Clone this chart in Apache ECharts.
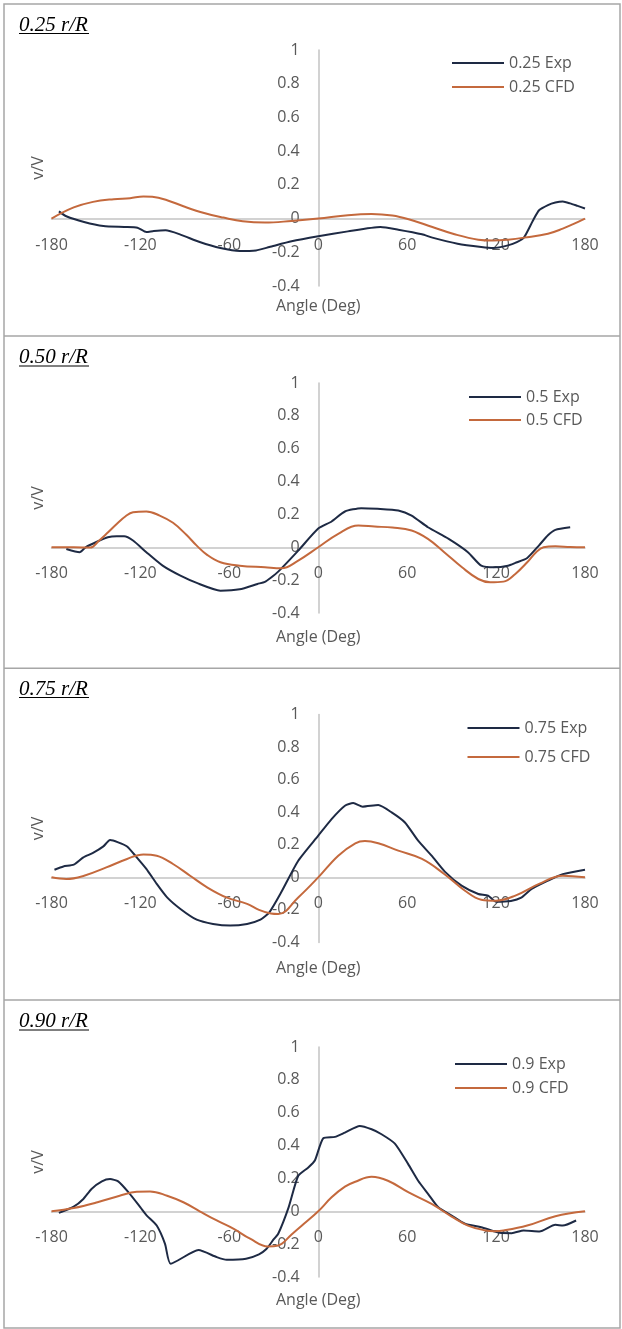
<!DOCTYPE html>
<html>
<head>
<meta charset="utf-8">
<script src="https://cdn.jsdelivr.net/npm/echarts@6/dist/echarts.min.js"></script>
<style>
  html, body { margin: 0; padding: 0; background: #fff; }
  #chart { width: 622px; height: 1329px; }
</style>
</head>
<body>
<div id="chart"></div>
<script>
// axis ticks
const X_MIN = -180, X_MAX = 180, X_STEP = 60;
const Y_MIN = -0.4, Y_MAX = 1, Y_STEP = 0.2;

const PANEL_TITLES = ['0.25 r/R', '0.50 r/R', '0.75 r/R', '0.90 r/R'];
const LEGEND_KEYS = ['0.25', '0.5', '0.75', '0.9'];

// 0.25 r/R
const EXP25_ANG = [-175, -170, -158, -145, -131, -122, -116, -111, -103, -93, -80, -66, -53, -42, -33, -18, 0, 20, 42, 54, 70, 77, 94, 110, 118, 128, 134, 139, 145, 149, 155, 160, 165, 170, 175, 180];
const EXP25_V = [0.043, 0.014, -0.02, -0.044, -0.05, -0.054, -0.08, -0.074, -0.07, -0.095, -0.139, -0.175, -0.193, -0.189, -0.169, -0.135, -0.105, -0.076, -0.05, -0.066, -0.093, -0.113, -0.149, -0.169, -0.175, -0.159, -0.14, -0.11, -0.01, 0.049, 0.08, 0.095, 0.101, 0.09, 0.075, 0.06];
const CFD25_ANG = [-180, -165, -152, -138, -127, -118, -112, -102, -91, -77, -64, -51, -36, -18, 0, 20, 36, 50, 61, 77, 92, 108, 118, 128, 139, 155, 165, 172, 180];
const CFD25_V = [0, 0.066, 0.099, 0.115, 0.121, 0.131, 0.129, 0.109, 0.073, 0.033, 0.006, -0.016, -0.024, -0.014, 0, 0.02, 0.027, 0.018, -0.004, -0.05, -0.093, -0.125, -0.13, -0.125, -0.113, -0.09, -0.06, -0.033, 0];

// 0.50 r/R
const EXP50_ANG = [-170, -161, -157, -149, -142, -136, -131, -125, -116, -105, -93, -82, -66, -53, -41, -36, -32, -27, -13.5, 0, 9, 18, 29, 40, 54, 63, 74, 88, 101, 110, 119, 128, 133, 141, 149, 155, 160, 170];
const EXP50_V = [-0.01, -0.03, 0, 0.035, 0.061, 0.067, 0.067, 0.041, -0.03, -0.112, -0.173, -0.217, -0.264, -0.256, -0.223, -0.21, -0.185, -0.148, -0.02, 0.114, 0.157, 0.218, 0.238, 0.234, 0.224, 0.193, 0.122, 0.051, -0.03, -0.112, -0.122, -0.112, -0.095, -0.065, 0.012, 0.073, 0.106, 0.122];
const CFD50_ANG = [-180, -165, -154, -148, -142, -136, -130, -125, -116, -107, -98, -89, -82, -75, -66, -53, -36, -25, -13.5, 0, 13.5, 27, 38, 50, 63, 74, 85, 97, 108, 116, 125, 133, 141, 147, 152, 160, 170, 180];
const CFD50_V = [0, 0, -0.002, 0.04, 0.09, 0.142, 0.189, 0.213, 0.218, 0.193, 0.149, 0.076, 0.01, -0.046, -0.091, -0.112, -0.122, -0.128, -0.081, 0, 0.082, 0.132, 0.126, 0.12, 0.102, 0.051, -0.03, -0.122, -0.193, -0.213, -0.209, -0.162, -0.091, -0.03, 0, 0.006, 0.002, 0];

// 0.75 r/R
const EXP75_ANG = [-178, -172, -165, -158.5, -152, -145, -140.5, -135, -129, -122.5, -116, -109, -102, -93, -82, -71, -59.5, -48, -39, -33, -25, -13.5, 0, 9, 18, 23.6, 30, 40.5, 49.5, 58.5, 67.4, 76.5, 85.4, 96.7, 108, 114.6, 120, 130, 137, 144, 155, 165, 180];
const EXP75_V = [0.047, 0.067, 0.078, 0.123, 0.15, 0.19, 0.229, 0.215, 0.19, 0.123, 0.052, -0.04, -0.123, -0.194, -0.26, -0.286, -0.296, -0.286, -0.26, -0.215, -0.092, 0.102, 0.256, 0.358, 0.44, 0.456, 0.434, 0.444, 0.399, 0.337, 0.225, 0.133, 0.035, -0.051, -0.102, -0.112, -0.15, -0.145, -0.125, -0.071, -0.02, 0.02, 0.047];
const CFD75_ANG = [-180, -170, -158, -143, -129, -118, -109, -98, -86.5, -75, -62, -48, -40, -32, -27, -13.5, 0, 13.5, 25, 31.5, 40.5, 54, 70, 85, 99, 110, 120, 133, 149, 165, 180];
const CFD75_V = [0, -0.01, 0.01, 0.061, 0.113, 0.141, 0.133, 0.082, 0.01, -0.061, -0.123, -0.163, -0.2, -0.222, -0.225, -0.123, 0, 0.133, 0.209, 0.223, 0.209, 0.164, 0.113, 0.021, -0.082, -0.137, -0.143, -0.112, -0.04, 0.01, 0];

// 0.90 r/R
const EXP90_ANG = [-175, -165, -158.5, -153, -146, -140.5, -135, -128, -120, -115.7, -109, -103.4, -99.6, -80.8, -68.5, -61.8, -48.7, -40, -35, -30, -27, -20, -13.5, -6.7, -2.2, 3.4, 11.3, 18, 28, 36, 42.7, 51.7, 60.7, 67.4, 74.2, 81, 90, 99, 110, 122.5, 130.6, 138.6, 149.3, 160, 165, 174];
const EXP90_V = [-0.01, 0.028, 0.075, 0.136, 0.182, 0.196, 0.182, 0.115, 0.024, -0.026, -0.087, -0.198, -0.319, -0.236, -0.279, -0.295, -0.289, -0.262, -0.23, -0.17, -0.137, 0.024, 0.216, 0.267, 0.311, 0.445, 0.453, 0.479, 0.519, 0.499, 0.469, 0.412, 0.287, 0.186, 0.105, 0.024, -0.026, -0.076, -0.097, -0.131, -0.133, -0.117, -0.123, -0.082, -0.087, -0.056];
const CFD90_ANG = [-180, -165, -149, -134, -122.5, -113.5, -102, -91, -80, -68.5, -57, -46, -34, -27, -18, -11, 0, 9, 18, 25, 36, 47, 61, 76.5, 90, 101, 112, 119, 125, 141, 160, 180];
const CFD90_V = [0, 0.02, 0.055, 0.095, 0.119, 0.121, 0.095, 0.055, 0, -0.056, -0.107, -0.167, -0.214, -0.208, -0.141, -0.087, 0, 0.085, 0.15, 0.18, 0.21, 0.186, 0.115, 0.045, -0.032, -0.087, -0.115, -0.121, -0.117, -0.087, -0.03, 0];

const EXP_ANG = [EXP25_ANG, EXP50_ANG, EXP75_ANG, EXP90_ANG];
const EXP_V = [EXP25_V, EXP50_V, EXP75_V, EXP90_V];
const CFD_ANG = [CFD25_ANG, CFD50_ANG, CFD75_ANG, CFD90_ANG];
const CFD_V = [CFD25_V, CFD50_V, CFD75_V, CFD90_V];

const EXP_COLOR = '#1e2a44';
const CFD_COLOR = '#c4693d';
const AXIS_GRAY = '#c3c3c3';
const TEXT_GRAY = '#595959';
const BORDER_GRAY = '#a6a6a6';
const FONT = '"Open Sans", sans-serif';

// layout of the four cells (px)
const GRID_LEFT = 51.5, GRID_RIGHT = 37, CHART_W = 622;
const PANELS = [
  { gridTop: 50, gridHeight: 236, nameGap: 79, titleY: 25, legendLeft: 452, legendTop: 55, legendGap: 8 },
  { gridTop: 383, gridHeight: 230, nameGap: 82, titleY: 357.5, legendLeft: 469, legendTop: 389, legendGap: 7 },
  { gridTop: 714.5, gridHeight: 228, nameGap: 83, titleY: 689, legendLeft: 467.5, legendTop: 720, legendGap: 13 },
  { gridTop: 1047, gridHeight: 230, nameGap: 81, titleY: 1021.5, legendLeft: 455, legendTop: 1056, legendGap: 8 },
];
const SEPARATORS = [336, 668.3, 1000];

const zip = (a, b) => a.map((x, k) => [x, b[k]]);

const chart = echarts.init(document.getElementById('chart'));

const grids = [], xAxes = [], yAxes = [], series = [], legends = [], titles = [];
const graphics = [
  { type: 'rect', shape: { x: 4, y: 4, width: 616, height: 1324 }, style: { fill: 'none', stroke: BORDER_GRAY, lineWidth: 1.5 } },
];
SEPARATORS.forEach(y => graphics.push({
  type: 'line', shape: { x1: 4, y1: y, x2: 620, y2: y }, style: { stroke: BORDER_GRAY, lineWidth: 1.5 },
}));

const labelStyle = { fontFamily: FONT, fontSize: 16, color: TEXT_GRAY };
const hidden = { show: false };
const gridBase = { outerBoundsMode: 'none', containLabel: false };

// pixel position of the zero lines, where Excel hangs the tick labels
const plotW = CHART_W - GRID_LEFT - GRID_RIGHT;
const x0 = GRID_LEFT + plotW * (0 - X_MIN) / (X_MAX - X_MIN);

PANELS.forEach((p, i) => {
  const y0 = p.gridTop + p.gridHeight * Y_MAX / (Y_MAX - Y_MIN);
  const g = grids.length;

  // main plot: axis lines cross at zero
  grids.push({ ...gridBase, left: GRID_LEFT, right: GRID_RIGHT, top: p.gridTop, height: p.gridHeight });
  xAxes.push({
    gridIndex: g, type: 'value', min: X_MIN, max: X_MAX, interval: X_STEP,
    axisLine: { onZero: true, lineStyle: { color: AXIS_GRAY, width: 1.5 } },
    axisTick: hidden, splitLine: hidden, axisLabel: hidden,
  });
  yAxes.push({
    gridIndex: g, type: 'value', min: Y_MIN, max: Y_MAX, interval: Y_STEP,
    axisLine: { show: true, onZero: true, lineStyle: { color: AXIS_GRAY, width: 1.5 } },
    axisTick: hidden, splitLine: hidden, axisLabel: hidden,
  });

  // x tick labels hung under the zero line
  grids.push({ ...gridBase, left: GRID_LEFT, right: GRID_RIGHT, top: y0 - 0.5, height: 1 });
  xAxes.push({
    gridIndex: g + 1, type: 'value', min: X_MIN, max: X_MAX, interval: X_STEP, position: 'bottom',
    name: 'Angle (Deg)', nameLocation: 'middle', nameGap: p.nameGap, nameTextStyle: labelStyle,
    axisLine: { show: false, onZero: false }, axisTick: hidden, splitLine: hidden,
    axisLabel: { ...labelStyle, margin: 18 },
  });
  yAxes.push({ gridIndex: g + 1, type: 'value', show: false, axisLine: { onZero: false } });

  // y tick labels hung left of the zero line
  grids.push({ ...gridBase, left: x0 - 0.5, width: 1, top: p.gridTop, height: p.gridHeight });
  xAxes.push({ gridIndex: g + 2, type: 'value', show: false, axisLine: { onZero: false } });
  yAxes.push({
    gridIndex: g + 2, type: 'value', min: Y_MIN, max: Y_MAX, interval: Y_STEP, position: 'left',
    name: 'v/V', nameLocation: 'middle', nameGap: 271, nameTextStyle: labelStyle,
    axisLine: { show: false, onZero: false }, axisTick: hidden, splitLine: hidden,
    axisLabel: { ...labelStyle, margin: 18 },
  });

  const expName = `${LEGEND_KEYS[i]} Exp`, cfdName = `${LEGEND_KEYS[i]} CFD`;
  series.push({
    type: 'line', name: expName, xAxisIndex: g, yAxisIndex: g, data: zip(EXP_ANG[i], EXP_V[i]),
    symbol: 'none', smooth: 0.2, lineStyle: { color: EXP_COLOR, width: 2 }, itemStyle: { color: EXP_COLOR },
  });
  series.push({
    type: 'line', name: cfdName, xAxisIndex: g, yAxisIndex: g, data: zip(CFD_ANG[i], CFD_V[i]),
    symbol: 'none', smooth: 0.4, lineStyle: { color: CFD_COLOR, width: 2 }, itemStyle: { color: CFD_COLOR },
  });
  legends.push({
    orient: 'vertical', left: p.legendLeft, top: p.legendTop, padding: 0,
    icon: 'rect', itemWidth: 52, itemHeight: 2, itemGap: p.legendGap,
    data: [expName, cfdName],
    textStyle: { ...labelStyle, lineHeight: 16 },
  });
  titles.push({
    text: PANEL_TITLES[i], left: 19, top: p.titleY - 11, padding: 0,
    textStyle: { fontFamily: '"Liberation Serif", "Times New Roman", serif', fontStyle: 'italic', fontWeight: 'normal', fontSize: 21, lineHeight: 22, color: '#000' },
  });
  graphics.push({
    type: 'line', shape: { x1: 19, y1: p.titleY + 8.5, x2: 89, y2: p.titleY + 8.5 }, style: { stroke: '#000', lineWidth: 1 },
  });
});

chart.setOption({
  animation: false,
  backgroundColor: '#fff',
  title: titles,
  legend: legends,
  grid: grids,
  xAxis: xAxes,
  yAxis: yAxes,
  series,
  graphic: graphics,
});
</script>
</body>
</html>
